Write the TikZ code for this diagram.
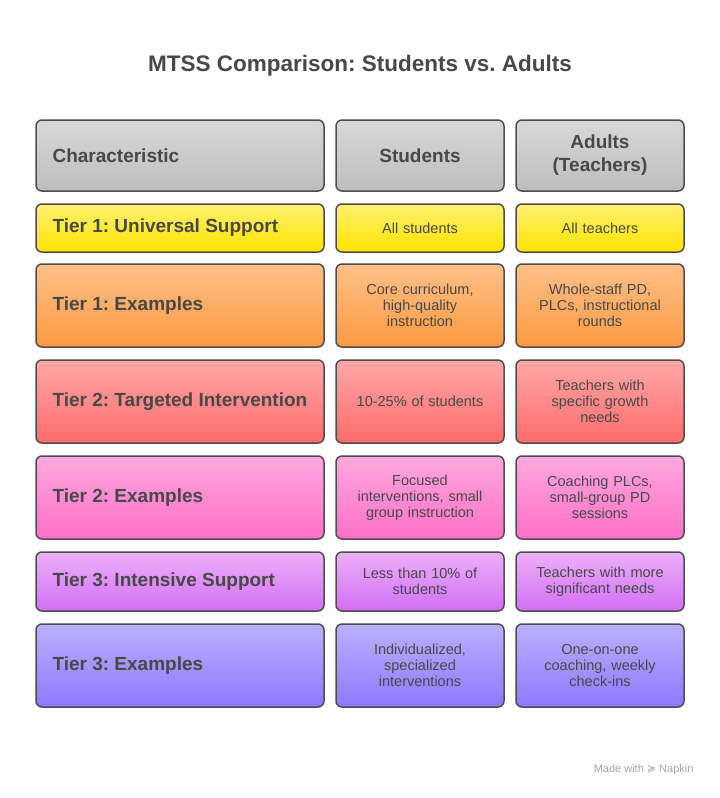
\documentclass[tikz,border=0pt]{standalone}
\usepackage{fontspec}
\setmainfont{Liberation Sans}
\newfontfamily\djfont{DejaVu Sans}
\frenchspacing
\definecolor{txt}{HTML}{484848}
\definecolor{bd}{HTML}{4D4D4D}
\definecolor{gT}{HTML}{D8D8D8}\definecolor{gB}{HTML}{BDBDBD}
\definecolor{yT}{HTML}{FFF070}\definecolor{yB}{HTML}{FFE500}
\definecolor{oT}{HTML}{FFC08A}\definecolor{oB}{HTML}{FB9A40}
\definecolor{rT}{HTML}{FFA8A8}\definecolor{rB}{HTML}{FF6B6B}
\definecolor{pT}{HTML}{FFA8DE}\definecolor{pB}{HTML}{FF70C8}
\definecolor{vT}{HTML}{ECB0FA}\definecolor{vB}{HTML}{D26EF5}
\definecolor{bT}{HTML}{BBB0FF}\definecolor{bB}{HTML}{8E78FF}
\tikzset{cell/.style={draw=bd,line width=1.5pt,rounded corners=6pt},
 lab/.style={text=txt,font=\bfseries\fontsize{19}{20}\selectfont},
 body/.style={text=txt,font=\fontsize{14.5}{16}\selectfont,align=center,text width=150pt}}
\begin{document}
\frenchspacing
\begin{tikzpicture}[x=1pt,y=-1pt]
\useasboundingbox[fill=white] (0,0) rectangle (720,798);
\node[text=txt,font=\bfseries\fontsize{22.5}{26}\selectfont] (title) at (360,66) {MTSS Comparison: Students vs. Adults};
\newcommand\rowcells[6]{% y1 y2 T B name label
 \shade[cell,top color=#3,bottom color=#4] (36,#1) rectangle (324,#2);
 \shade[cell,top color=#3,bottom color=#4] (336,#1) rectangle (504,#2);
 \shade[cell,top color=#3,bottom color=#4] (516,#1) rectangle (684,#2);
 \node[lab,anchor=west] (#5a) at (49,{(#1+#2)/2}) {#6};}
\rowcells{120}{191}{gT}{gB}{h}{Characteristic}
\node[lab,align=center] (hb) at (420,155.5) {Students};
\node[lab,align=center,font=\bfseries\fontsize{19}{23}\selectfont] (hc) at (600,155.5) {Adults\\(Teachers)};
\rowcells{204}{252}{yT}{yB}{r1}{Tier 1: Universal Support}
\node[body] (r1b) at (420,228) {All students};
\node[body] (r1c) at (600,228) {All teachers};
\rowcells{264}{347}{oT}{oB}{r2}{Tier 1: Examples}
\node[body] (r2b) at (420,305.5) {Core curriculum,\\high-quality\\instruction};
\node[body] (r2c) at (600,305.5) {Whole-staff PD,\\PLCs, instructional\\rounds};
\rowcells{360}{443}{rT}{rB}{r3}{Tier 2: Targeted Intervention}
\node[body] (r3b) at (420,401.5) {10-25\% of students};
\node[body] (r3c) at (600,401.5) {Teachers with\\specific growth\\needs};
\rowcells{456}{539}{pT}{pB}{r4}{Tier 2: Examples}
\node[body] (r4b) at (420,497.5) {Focused\\interventions, small\\group instruction};
\node[body] (r4c) at (600,497.5) {Coaching PLCs,\\small-group PD\\sessions};
\rowcells{552}{611}{vT}{vB}{r5}{Tier 3: Intensive Support}
\node[body] (r5b) at (420,581.5) {Less than 10\% of\\students};
\node[body] (r5c) at (600,581.5) {Teachers with more\\significant needs};
\rowcells{624}{707}{bT}{bB}{r6}{Tier 3: Examples}
\node[body] (r6b) at (420,665.5) {Individualized,\\specialized\\interventions};
\node[body] (r6c) at (600,665.5) {One-on-one\\coaching, weekly\\check-ins};
\node[anchor=east,text=gray!70,font=\fontsize{11}{12}\selectfont] (mw) at (697,770) {Made with {\djfont ≽} Napkin};
\end{tikzpicture}
\end{document}
